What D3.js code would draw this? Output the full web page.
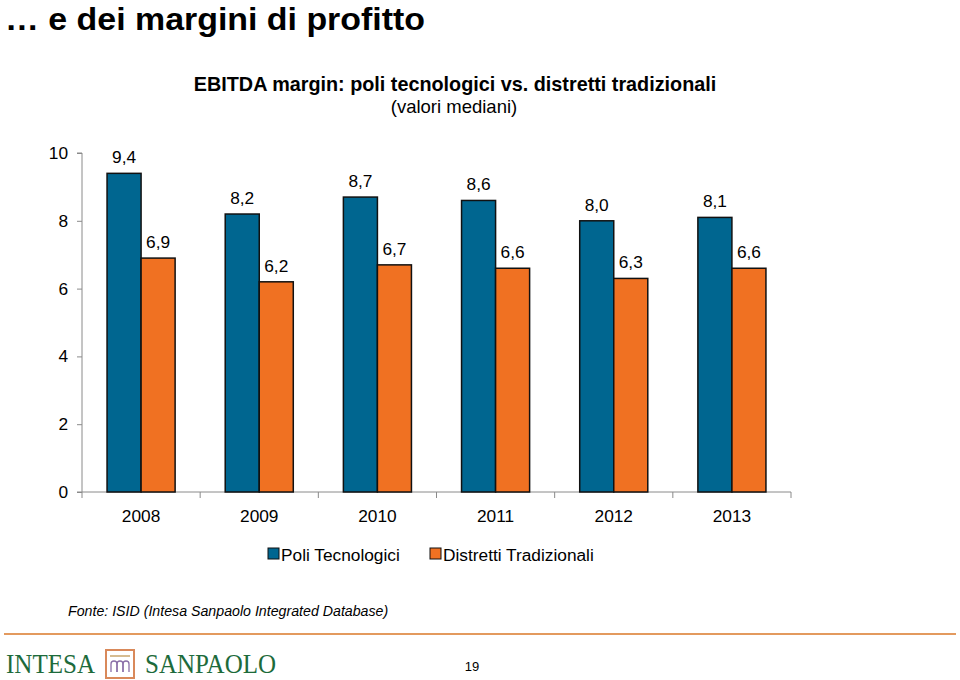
<!DOCTYPE html>
<html><head><meta charset="utf-8">
<script src="https://cdn.jsdelivr.net/npm/d3@7"></script>
<style>body{margin:0;background:#fff}svg{display:block;font-family:"Liberation Sans",Arial,sans-serif}</style>
</head><body>
<svg id="c" width="960" height="680"></svg>
<script>
const years = ["2008","2009","2010","2011","2012","2013"];
const poli = [9.4, 8.2, 8.7, 8.6, 8.0, 8.1];
const distretti = [6.9, 6.2, 6.7, 6.6, 6.3, 6.6];
const seriesNames = ["Poli Tecnologici","Distretti Tradizionali"];
const yTicks = [0,2,4,6,8,10];

const colors = ["#006690","#F07122"];
const svg = d3.select("#c");

svg.append("text").attr("x",5).attr("y",30).attr("font-size",32).attr("font-weight","bold")
  .attr("textLength",420).attr("lengthAdjust","spacingAndGlyphs")
  .text("… e dei margini di profitto");
svg.append("text").attr("x",455).attr("y",91).attr("text-anchor","middle").attr("font-size",19.8).attr("font-weight","bold")
  .text("EBITDA margin: poli tecnologici vs. distretti tradizionali");
svg.append("text").attr("x",454).attr("y",113).attr("text-anchor","middle").attr("font-size",18.5)
  .text("(valori mediani)");

const x = d3.scaleBand().domain(years).range([82,791]).padding(0);
const y = d3.scaleLinear().domain([0,10]).range([492,153]);
const barW = x.bandwidth()*0.288;
const off = (x.bandwidth()-2*barW)/2;
const fs = 17.3;

// y axis
const ya = svg.append("g").attr("transform","translate(82,0)")
  .call(d3.axisLeft(y).tickValues(yTicks).tickSize(5).tickPadding(9).tickFormat(d3.format("d")));
ya.selectAll("path,line").attr("stroke","#8a8a8a");
ya.selectAll("text").attr("font-size",fs).attr("fill","#000").attr("font-family","Liberation Sans, Arial, sans-serif");
ya.select(".domain").attr("d","M-5,153H0V492H-5");

// x axis
const xa = svg.append("g").attr("transform","translate(0,492)")
  .call(d3.axisBottom(x).tickSize(0).tickPadding(18));
xa.select(".domain").attr("stroke","#8a8a8a").attr("d","M82,0H791");
xa.selectAll("text").attr("font-size",fs).attr("fill","#000").attr("font-family","Liberation Sans, Arial, sans-serif");
xa.selectAll(".sep").data(years.concat(["end"])).enter().append("line")
  .attr("x1",(d,i)=> i<years.length? x(d): x.range()[1]).attr("x2",(d,i)=> i<years.length? x(d): x.range()[1])
  .attr("y1",0).attr("y2",6).attr("stroke","#8a8a8a");

const data = years.map((yr,i)=>({yr, vals:[poli[i],distretti[i]]}));
const g = svg.append("g");
data.forEach(d=>{
  d.vals.forEach((v,j)=>{
    const bx = x(d.yr)+off+j*barW;
    g.append("rect").attr("x",bx).attr("y",y(v)).attr("width",barW).attr("height",y(0)-y(v))
      .attr("fill",colors[j]).attr("stroke","#111").attr("stroke-width",1.5);
    g.append("text").attr("x",bx+barW/2).attr("y",y(v)-10).attr("text-anchor","middle")
      .attr("font-size",fs).text(d3.format(".1f")(v).replace(".",","));
  });
});

// legend
const lg = svg.append("g");
const legX = [268,430];
seriesNames.forEach((n,j)=>{
  lg.append("rect").attr("x",legX[j]).attr("y",548).attr("width",11).attr("height",11)
    .attr("fill",colors[j]).attr("stroke","#111").attr("stroke-width",1);
  lg.append("text").attr("x",legX[j]+13).attr("y",561).attr("font-size",fs).text(n);
});

// source
svg.append("text").attr("x",68).attr("y",616).attr("font-size",14.2).attr("font-style","italic")
  .text("Fonte: ISID (Intesa Sanpaolo Integrated Database)");
svg.append("line").attr("x1",4).attr("x2",956).attr("y1",634).attr("y2",634).attr("stroke","#E39A5E").attr("stroke-width",2);

// logo
const green = "#1D6B3B";
svg.append("text").attr("x",6).attr("y",673).attr("font-family","Liberation Serif, serif").attr("font-size",28)
  .attr("fill",green).attr("textLength",89).attr("lengthAdjust","spacingAndGlyphs").text("INTESA");
svg.append("rect").attr("x",106).attr("y",650).attr("width",28).attr("height",28).attr("fill","#fff").attr("stroke","#D9895A").attr("stroke-width",2);
svg.append("line").attr("x1",110).attr("x2",130).attr("y1",656).attr("y2",656).attr("stroke","#C9A66B").attr("stroke-width",1.5);
[111,117,123].forEach(ax=>{
  svg.append("path").attr("d",`M${ax},672V664a3,3 0 0 1 6,0V672`).attr("fill","none").attr("stroke","#8A6FA8").attr("stroke-width",1.3);
});
svg.append("text").attr("x",145).attr("y",673).attr("font-family","Liberation Serif, serif").attr("font-size",28)
  .attr("fill",green).attr("textLength",131).attr("lengthAdjust","spacingAndGlyphs").text("SANPAOLO");
svg.append("text").attr("x",472).attr("y",671).attr("text-anchor","middle").attr("font-size",13).text("19");
</script>
</body></html>
